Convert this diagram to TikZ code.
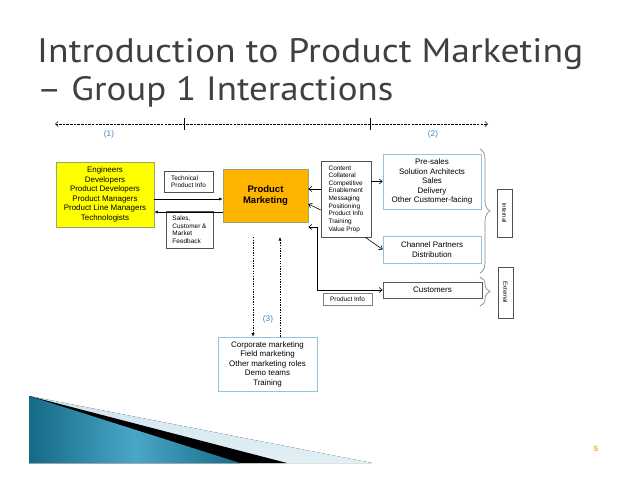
\documentclass[tikz,border=0pt]{standalone}
\usepackage{fontspec}
\usepackage{graphicx}
\setmainfont{Liberation Sans}
\newfontfamily\titlefont{PT Sans}
\usetikzlibrary{arrows.meta, positioning, calc, decorations.pathreplacing}
\definecolor{titlegrey}{HTML}{404040}
\definecolor{engyellow}{HTML}{FFFF00}
\definecolor{pmorange}{HTML}{FFB400}
\definecolor{olivegrey}{HTML}{98A66C}
\definecolor{paleblue}{HTML}{93C4DD}
\definecolor{custgrey}{HTML}{4F5B66}
\definecolor{notegrey}{HTML}{505050}
\definecolor{bracegrey}{HTML}{8A8A8A}
\definecolor{numblue}{HTML}{3B84C4}
\definecolor{pagegold}{HTML}{F0A830}
\definecolor{tealdark}{HTML}{156A86}
\definecolor{teallight}{HTML}{4AA6C8}
\definecolor{skyband}{HTML}{CFE5EF}

\newlength\pxl
\setlength\pxl{0.03cm}

\tikzset{
  groupbox/.style={draw=#1, line width=0.6pt, align=center, inner sep=0pt,
    font=\fontsize{6.8}{8.1}\selectfont},
  notebox/.style={draw=notegrey, line width=0.5pt, align=left, inner sep=0pt,
    font=\fontsize{5.5}{6.5}\selectfont},
  sidebox/.style={draw=notegrey, line width=0.6pt, rotate=-90, inner sep=0pt,
    font=\fontsize{5}{6}\selectfont},
  numlabel/.style={text=numblue, font=\fontsize{7}{8}\selectfont},
  solidarrow/.style={line width=0.5pt, -{Latex[length=3pt,width=2.6pt]}},
  openarrow/.style={line width=0.5pt, -{Straight Barb[length=2.6pt,width=4.4pt]}},
  dotarrow/.style={line width=0.5pt, dash pattern=on 1.2pt off 1pt,
    -{Latex[length=3pt,width=2.6pt]}},
  bracket/.style={draw=bracegrey, line width=0.6pt,
    decorate, decoration={brace, amplitude=10\pxl}}
}

\begin{document}
\begin{tikzpicture}[x=0.03cm, y=-0.03cm]
\useasboundingbox (0,0) rectangle (638,493);

% slide title
\node[anchor=base west, inner sep=0pt, text=titlegrey] (title1) at (37,62)
  {\resizebox{546\pxl}{24\pxl}{\titlefont Introduction to Product Marketing}};
\node[anchor=base west, inner sep=0pt, text=titlegrey] (title2) at (37,100)
  {\resizebox{356\pxl}{24\pxl}{\titlefont – Group 1 Interactions}};

% footer decoration
\fill[top color=skyband, bottom color=skyband!60, draw=none] (29,396) -- (372,463) -- (29,463) -- cycle;
\fill[black] (29,396) -- (287,463) -- (29,463) -- cycle;
\fill[left color=tealdark, right color=tealdark, middle color=teallight] (29,396) -- (240,463) -- (29,463) -- cycle;
\node[text=pagegold, font=\fontsize{6.5}{7}\selectfont\bfseries] (pagenum) at (596,449) {5};

% ruler with groups
\coordinate (rulerL) at (55,124);
\coordinate (rulerR) at (488,124);
\draw[line width=0.4pt, dash pattern=on 2.2pt off 0.9pt,
  {Straight Barb[length=2.4pt,width=4.4pt]}-{Straight Barb[length=2.4pt,width=4.4pt]}] (rulerL) -- (rulerR);
\draw[line width=0.5pt] (184,118) -- (184,130);
\draw[line width=0.5pt] (370,118) -- (370,130);
\node[numlabel] (one) at (109,134) {(1)};
\node[numlabel] (two) at (433,134) {(2)};
\node[numlabel] (three) at (268,319) {(3)};

% boxes
\node[groupbox=olivegrey, fill=engyellow, minimum width=98\pxl, minimum height=65\pxl] (eng) at (105,194.5)
  {Engineers\\Developers\\Product Developers\\Product Managers\\Product Line Managers\\Technologists};
\node[groupbox=olivegrey, fill=pmorange, minimum width=85\pxl, minimum height=53\pxl,
  font=\fontsize{8.1}{9.4}\selectfont\bfseries] (pm) at (265.5,195.5) {Product\\Marketing};
\node[notebox, minimum width=49\pxl, minimum height=21\pxl] (tech) at (188.5,181.5)
  {Technical\\Product Info};
\node[notebox, minimum width=47\pxl, minimum height=37\pxl] (feedback) at (189.5,229.5)
  {Sales,\\Customer \&\\Market\\Feedback};
\node[notebox, minimum width=50\pxl, minimum height=76\pxl] (content) at (346,199)
  {Content\\Collateral\\Competitive\\Enablement\\Messaging\\Positioning\\Product Info\\Training\\Value Prop};
\node[notebox, draw=gray, minimum width=49\pxl, minimum height=12\pxl] (prodinfo) at (347.5,299)
  {Product Info};
\node[groupbox=paleblue, minimum width=98\pxl, minimum height=55\pxl] (presales) at (432,181.5)
  {Pre-sales\\Solution Architects\\Sales\\Delivery\\Other Customer-facing};
\node[groupbox=paleblue, minimum width=98\pxl, minimum height=27\pxl] (channel) at (432,249.5)
  {Channel Partners\\Distribution};
\node[groupbox=custgrey, minimum width=99\pxl, minimum height=16\pxl] (customers) at (432.5,290)
  {Customers};
\node[sidebox, minimum width=48\pxl, minimum height=15\pxl] (internal) at (504.5,213) {Internal};
\node[sidebox, minimum width=51\pxl, minimum height=15\pxl] (external) at (505.5,292.5) {External};
\node[groupbox=paleblue, minimum width=99\pxl, minimum height=54\pxl] (corp) at (267.5,364)
  {Corporate marketing\\Field marketing\\Other marketing roles\\Demo teams\\Training};

% connectors
\draw[solidarrow] (eng.east |- 0,199) -- (pm.west |- 0,199);
\draw[solidarrow] (pm.west |- 0,212) -- (eng.east |- 0,212);
\draw[openarrow] (content.west |- 0,189) -- (pm.east |- 0,189);
\draw[openarrow] (content.west |- 0,210) -- (pm.east |- 0,204);
\coordinate (bend) at (317,0);
\draw[openarrow, {Straight Barb[length=2.6pt,width=4.4pt]}-{Straight Barb[length=2.6pt,width=4.4pt]}]
  (pm.east |- 0,227) -| (bend |- customers.west) -- (customers.west);
\draw[openarrow] (content.east |- presales.west) -- (presales.west);
\draw[openarrow] ([xshift=-6\pxl]content.south east) -- (channel.west);

% brackets
\draw[bracket] (480,149) -- (480,273);
\draw[bracket] (480,277) -- (480,306);

% links to corporate marketing
\coordinate (downTop) at (253,237);
\coordinate (upTop) at (280,237);
\draw[dotarrow] (downTop) -- (downTop |- corp.north);
\draw[dotarrow] (upTop |- corp.north) -- (upTop);
\end{tikzpicture}
\end{document}
